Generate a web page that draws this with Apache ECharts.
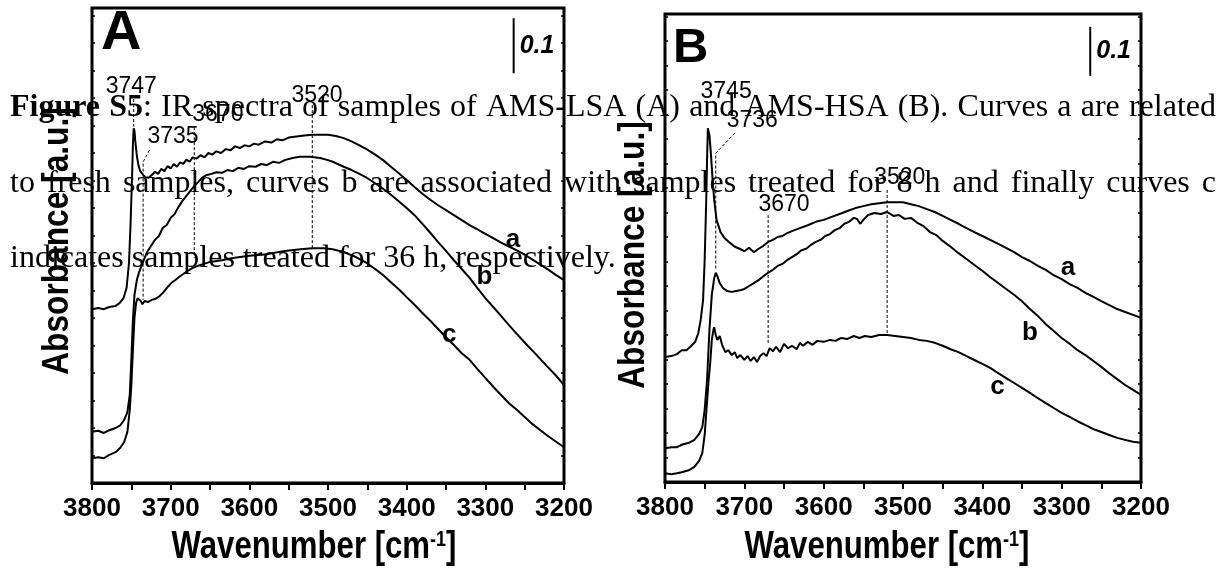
<!DOCTYPE html>
<html>
<head>
<meta charset="utf-8">
<script src="https://cdn.jsdelivr.net/npm/echarts@6/dist/echarts.min.js"></script>
<style>
html,body{margin:0;padding:0;background:#fff;}
#chart{width:1224px;height:573px;}
</style>
</head>
<body>
<div id="chart"></div>
<script>
// IR spectra in the OH stretching region: [wavenumber cm-1, absorbance]
// AMS-LSA: a = fresh, b = 8 h, c = 36 h
const lsaFresh = [
[3800,0.316],[3792,0.318],[3785,0.316],[3778,0.320],[3770,0.322],[3765,0.327],[3760,0.336],[3756,0.355],[3753,0.400],[3751,0.470],[3749,0.560],[3748,0.615],[3747,0.645],[3746,0.640],[3745,0.622],[3743,0.595],[3741,0.578],[3739,0.568],[3737,0.566],[3735,0.560],[3732,0.556],[3728,0.555],[3724,0.560],[3720,0.566],[3716,0.562],[3712,0.571],[3708,0.567],[3704,0.576],[3700,0.572],[3696,0.580],[3692,0.575],[3688,0.583],[3684,0.580],[3680,0.588],[3676,0.584],[3672,0.592],[3667,0.590],[3662,0.596],[3657,0.592],[3652,0.600],[3647,0.597],[3642,0.603],[3636,0.600],[3630,0.607],[3624,0.605],[3618,0.612],[3612,0.609],[3606,0.614],[3600,0.612],[3594,0.617],[3588,0.615],[3580,0.621],[3572,0.619],[3565,0.625],[3558,0.623],[3550,0.628],[3540,0.630],[3530,0.632],[3520,0.633],[3510,0.633],[3500,0.633],[3490,0.631],[3480,0.627],[3470,0.621],[3460,0.614],[3450,0.606],[3440,0.597],[3430,0.587],[3420,0.575],[3410,0.563],[3400,0.551],[3390,0.538],[3380,0.526],[3370,0.515],[3360,0.505],[3350,0.496],[3340,0.487],[3330,0.478],[3320,0.469],[3310,0.461],[3300,0.453],[3290,0.445],[3280,0.437],[3270,0.430],[3260,0.423],[3250,0.415],[3240,0.406],[3230,0.397],[3220,0.388],[3210,0.378],[3200,0.369]
];
const lsa8h = [
[3800,0.093],[3792,0.095],[3785,0.091],[3778,0.096],[3770,0.100],[3764,0.105],[3759,0.115],[3755,0.129],[3752,0.160],[3750,0.224],[3748,0.296],[3746,0.342],[3743,0.369],[3740,0.384],[3735,0.402],[3730,0.420],[3725,0.431],[3720,0.442],[3715,0.449],[3710,0.464],[3705,0.469],[3700,0.482],[3695,0.489],[3690,0.502],[3685,0.513],[3680,0.522],[3675,0.531],[3670,0.540],[3665,0.547],[3660,0.555],[3654,0.560],[3648,0.562],[3642,0.565],[3635,0.564],[3628,0.569],[3621,0.567],[3614,0.573],[3607,0.571],[3600,0.576],[3592,0.575],[3585,0.580],[3578,0.578],[3570,0.584],[3562,0.582],[3555,0.587],[3545,0.591],[3536,0.593],[3523,0.593],[3510,0.591],[3500,0.587],[3494,0.584],[3480,0.575],[3470,0.569],[3460,0.562],[3451,0.555],[3440,0.545],[3430,0.535],[3420,0.524],[3409,0.511],[3400,0.500],[3390,0.487],[3380,0.471],[3370,0.455],[3360,0.438],[3350,0.422],[3340,0.405],[3330,0.389],[3320,0.373],[3311,0.356],[3300,0.336],[3290,0.320],[3280,0.304],[3270,0.287],[3260,0.271],[3247,0.251],[3235,0.233],[3222,0.213],[3210,0.195],[3200,0.178]
];
const lsa36h = [
[3800,0.045],[3792,0.047],[3785,0.045],[3778,0.051],[3770,0.056],[3764,0.064],[3759,0.075],[3755,0.093],[3752,0.133],[3750,0.178],[3748,0.242],[3746,0.300],[3744,0.327],[3742,0.336],[3740,0.336],[3738,0.331],[3736,0.325],[3733,0.331],[3729,0.329],[3724,0.333],[3719,0.335],[3714,0.340],[3709,0.347],[3704,0.356],[3699,0.364],[3694,0.369],[3689,0.375],[3684,0.380],[3679,0.385],[3672,0.391],[3663,0.396],[3650,0.402],[3635,0.405],[3621,0.409],[3600,0.413],[3578,0.416],[3555,0.422],[3535,0.425],[3520,0.427],[3505,0.427],[3494,0.425],[3480,0.420],[3465,0.411],[3451,0.400],[3440,0.389],[3430,0.378],[3420,0.365],[3409,0.351],[3400,0.338],[3390,0.324],[3380,0.309],[3370,0.295],[3360,0.280],[3350,0.265],[3340,0.251],[3330,0.236],[3320,0.224],[3310,0.207],[3300,0.191],[3290,0.175],[3280,0.160],[3270,0.145],[3260,0.133],[3250,0.120],[3240,0.107],[3230,0.096],[3220,0.085],[3210,0.075],[3200,0.065]
];
// AMS-HSA: a = fresh, b = 8 h, c = 36 h
const hsaFresh = [
[3800,0.255],[3792,0.257],[3785,0.261],[3779,0.269],[3773,0.269],[3768,0.276],[3762,0.286],[3758,0.304],[3755,0.331],[3752,0.371],[3750,0.453],[3748,0.576],[3747,0.657],[3746,0.722],[3744,0.708],[3742,0.667],[3740,0.616],[3738,0.576],[3735,0.535],[3730,0.510],[3725,0.498],[3718,0.488],[3712,0.480],[3706,0.476],[3700,0.471],[3694,0.478],[3688,0.469],[3682,0.476],[3676,0.482],[3670,0.490],[3664,0.494],[3658,0.500],[3652,0.502],[3646,0.508],[3640,0.512],[3630,0.518],[3620,0.524],[3610,0.531],[3600,0.535],[3590,0.541],[3580,0.547],[3570,0.553],[3560,0.559],[3550,0.563],[3540,0.567],[3530,0.569],[3520,0.571],[3510,0.571],[3500,0.571],[3490,0.567],[3480,0.563],[3470,0.557],[3460,0.551],[3450,0.543],[3440,0.535],[3430,0.527],[3420,0.518],[3410,0.510],[3400,0.502],[3390,0.494],[3380,0.486],[3370,0.478],[3360,0.469],[3350,0.459],[3340,0.451],[3330,0.441],[3320,0.433],[3310,0.422],[3300,0.414],[3290,0.404],[3280,0.396],[3270,0.386],[3260,0.378],[3250,0.369],[3240,0.361],[3230,0.353],[3220,0.347],[3210,0.341],[3200,0.335]
];
const hsa8h = [
[3800,0.069],[3792,0.071],[3785,0.071],[3779,0.076],[3770,0.080],[3763,0.086],[3757,0.098],[3753,0.112],[3750,0.147],[3747,0.208],[3744,0.310],[3741,0.382],[3738,0.416],[3736,0.427],[3734,0.420],[3731,0.406],[3727,0.396],[3722,0.390],[3716,0.388],[3710,0.390],[3704,0.392],[3700,0.394],[3694,0.400],[3688,0.406],[3682,0.412],[3676,0.420],[3670,0.427],[3664,0.433],[3658,0.441],[3652,0.445],[3646,0.453],[3640,0.459],[3634,0.465],[3628,0.473],[3622,0.476],[3616,0.484],[3610,0.490],[3604,0.494],[3598,0.502],[3592,0.506],[3586,0.514],[3580,0.518],[3574,0.527],[3568,0.531],[3562,0.539],[3558,0.537],[3554,0.527],[3550,0.535],[3544,0.545],[3536,0.549],[3528,0.547],[3520,0.551],[3512,0.543],[3505,0.545],[3498,0.537],[3490,0.539],[3482,0.529],[3474,0.522],[3466,0.510],[3458,0.504],[3450,0.492],[3440,0.480],[3430,0.467],[3420,0.455],[3410,0.443],[3400,0.431],[3390,0.418],[3380,0.406],[3370,0.394],[3360,0.382],[3350,0.369],[3340,0.353],[3330,0.339],[3320,0.322],[3310,0.308],[3300,0.294],[3290,0.282],[3280,0.269],[3270,0.259],[3260,0.247],[3250,0.235],[3240,0.222],[3230,0.210],[3220,0.198],[3210,0.188],[3200,0.178]
];
const hsa36h = [
[3800,0.018],[3792,0.016],[3785,0.018],[3779,0.020],[3770,0.024],[3763,0.031],[3757,0.043],[3753,0.059],[3750,0.096],[3748,0.141],[3745,0.208],[3743,0.243],[3741,0.290],[3739,0.310],[3738,0.316],[3736,0.300],[3734,0.290],[3731,0.298],[3728,0.280],[3724,0.265],[3720,0.269],[3716,0.259],[3712,0.265],[3709,0.253],[3705,0.259],[3700,0.249],[3696,0.257],[3692,0.247],[3688,0.255],[3684,0.245],[3680,0.257],[3676,0.263],[3672,0.257],[3668,0.273],[3664,0.267],[3660,0.276],[3655,0.265],[3650,0.282],[3645,0.273],[3640,0.278],[3634,0.271],[3630,0.284],[3626,0.278],[3620,0.286],[3614,0.280],[3608,0.288],[3600,0.286],[3592,0.290],[3585,0.288],[3578,0.294],[3570,0.292],[3562,0.298],[3555,0.294],[3548,0.298],[3540,0.296],[3530,0.300],[3520,0.300],[3510,0.298],[3500,0.296],[3490,0.294],[3480,0.290],[3470,0.288],[3460,0.284],[3450,0.278],[3440,0.271],[3430,0.265],[3420,0.257],[3410,0.249],[3400,0.241],[3390,0.233],[3380,0.222],[3370,0.212],[3360,0.202],[3350,0.192],[3340,0.182],[3330,0.171],[3320,0.161],[3310,0.151],[3300,0.141],[3290,0.133],[3280,0.124],[3270,0.116],[3260,0.108],[3250,0.102],[3240,0.096],[3230,0.090],[3220,0.086],[3210,0.082],[3200,0.080]
];

// marked band positions (cm-1)
const peaksLSA = [3747, 3735, 3670, 3520];
const peaksHSA = [3745, 3736, 3670, 3520];
const curveNames = ['a', 'b', 'c'];
const wavenumberTicks = [3800, 3700, 3600, 3500, 3400, 3300, 3200];
const scaleBar = 0.1;

const captionLines = [
  'Figure S5: IR spectra of samples of AMS-LSA (A) and AMS-HSA (B). Curves a are related',
  'to fresh samples, curves b are associated with samples treated for 8 h and finally curves c',
  'indicates samples treated for 36 h, respectively.'
];
const captionBold = 'Figure S5';

// ---- layout ----
const SANS = '"Liberation Sans", Arial, sans-serif';
const SERIF = '"Liberation Serif", "Times New Roman", serif';

const panels = [
  {
    letter: 'A', letterSize: 56, letterX: 101, letterY: 34,
    grid: {left: 92, top: 8, width: 472, height: 475},
    yMax: 0.8636,
    curves: [lsaFresh, lsa8h, lsa36h],
    peaks: peaksLSA,
    // label anchor [wn, abs] and dashed guide for each marked band
    peakLabel: [[3750, 0.720], [3697, 0.629], [3640, 0.669], [3514, 0.705]],
    guide: [
      [[0, 0.698], [0, 0.648]],
      [[3727, 0.605], [0, 0.584], [0, 0.333]],
      [[0, 0.647], [0, 0.409]],
      [[0, 0.687], [0, 0.427]]
    ],
    curveLabel: [[3265, 0.442], [3301, 0.375], [3346, 0.269]],
    bar: [3264, 0.745],
    yTitle: [58, 241], xTitle: [314, 548]
  },
  {
    letter: 'B', letterSize: 49, letterX: 673, letterY: 48,
    grid: {left: 665, top: 14, width: 476, height: 468},
    yMax: 0.9551,
    curves: [hsaFresh, hsa8h, hsa36h],
    peaks: peaksHSA,
    peakLabel: [[3723, 0.796], [3690, 0.737], [3650, 0.565], [3504, 0.622]],
    guide: [
      null,
      [[3712, 0.712], [0, 0.671], [0, 0.433]],
      [[0, 0.545], [0, 0.280]],
      [[0, 0.596], [0, 0.304]]
    ],
    curveLabel: [[3292, 0.437], [3340, 0.304], [3381, 0.194]],
    bar: [3264, 0.829],
    yTitle: [634, 255], xTitle: [887, 548]
  }
];

const chart = echarts.init(document.getElementById('chart'));

const grids = [], xAxes = [], yAxes = [], series = [], graphics = [];
const xMin = Math.min(...wavenumberTicks), xMax = Math.max(...wavenumberTicks);
const xStep = wavenumberTicks[0] - wavenumberTicks[1];

function labelSeries(i, data, labelStyle) {
  return {
    type: 'scatter', xAxisIndex: i, yAxisIndex: i * 2, symbolSize: 0, z: 4,
    itemStyle: {opacity: 1}, emphasis: {disabled: true},
    data: data,
    label: Object.assign({show: true, position: 'inside', formatter: '{b}', color: '#000', opacity: 1,
      fontFamily: SANS}, labelStyle)
  };
}

panels.forEach((p, i) => {
  grids.push(Object.assign({show: true, borderColor: '#000', borderWidth: 3, backgroundColor: 'transparent'}, p.grid));
  xAxes.push({
    gridIndex: i, type: 'value', inverse: true, min: xMin, max: xMax, interval: xStep,
    axisLine: {show: true, lineStyle: {color: '#000', width: 3}},
    axisTick: {show: true, inside: false, length: 7, lineStyle: {color: '#000', width: 2}},
    minorTick: {show: true, splitNumber: 2, length: 7, lineStyle: {color: '#000', width: 2}},
    splitLine: {show: false},
    axisLabel: {margin: 13, color: '#000', fontFamily: SANS, fontWeight: 'bold', fontSize: 26,
      formatter: v => String(v)}
  });
  ['left', 'right'].forEach(pos => {
    yAxes.push({
      gridIndex: i, type: 'value', position: pos, min: 0, max: p.yMax, interval: 0.05,
      axisLine: {show: false},
      axisTick: {show: true, inside: true, length: 3, lineStyle: {color: '#000', width: 1.5}},
      axisLabel: {show: false}, splitLine: {show: false}
    });
  });
  const yi = i * 2;

  p.curves.forEach(data => {
    series.push({
      type: 'line', xAxisIndex: i, yAxisIndex: yi, data: data, symbol: 'none',
      lineStyle: {color: '#000', width: 2}, z: 3
    });
  });

  // dashed guides at the marked bands
  p.peaks.forEach((wn, k) => {
    const g = p.guide[k];
    if (!g) return;
    const pts = g.map(pt => [pt[0] === 0 ? wn : pt[0], pt[1]]);
    series.push({
      type: 'line', xAxisIndex: i, yAxisIndex: yi, data: pts, symbol: 'none',
      lineStyle: {color: '#000', width: 1, type: [3, 2]}, z: 2
    });
  });

  // band labels
  series.push(labelSeries(i, p.peaks.map((wn, k) => ({value: p.peakLabel[k], name: String(wn)})),
    {fontSize: 23}));

  // curve letters
  series.push(labelSeries(i, curveNames.map((n, k) => ({value: p.curveLabel[k], name: n})),
    {fontWeight: 'bold', fontSize: 26}));

  // absorbance scale bar
  series.push({
    type: 'line', xAxisIndex: i, yAxisIndex: yi, symbol: 'none',
    data: [[p.bar[0], p.bar[1]], [p.bar[0], p.bar[1] + scaleBar]],
    lineStyle: {color: '#000', width: 2}, z: 3
  });
  series.push(labelSeries(i, [{value: [p.bar[0], p.bar[1] + scaleBar / 2], name: String(scaleBar)}],
    {position: 'right', distance: 6, fontWeight: 'bold', fontStyle: 'italic', fontSize: 25}));

  // panel letter
  graphics.push({
    type: 'text', x: p.letterX, y: p.letterY, z: 10,
    style: {text: p.letter, font: 'bold ' + p.letterSize + 'px ' + SANS, fill: '#000',
      textAlign: 'left', textVerticalAlign: 'middle', align: 'left', verticalAlign: 'middle'}
  });
});

// axis titles (condensed bold sans)
const mctx = document.createElement('canvas').getContext('2d');
function textWidth(t, font) { mctx.font = font; return mctx.measureText(t).width; }

panels.forEach(p => {
  const fMain = 'bold 38px ' + SANS, fSup = 'bold 22px ' + SANS;
  const w1 = textWidth('Wavenumber [cm', fMain), w2 = textWidth('-1', fSup), w3 = textWidth(']', fMain);
  const x0 = -(w1 + w2 + w3) / 2;
  const base = {fill: '#000', textAlign: 'left', textVerticalAlign: 'middle', align: 'left', verticalAlign: 'middle'};
  graphics.push({
    type: 'group', x: p.xTitle[0], y: p.xTitle[1], scaleX: 0.82, z: 10,
    children: [
      {type: 'text', x: x0, y: 0, style: Object.assign({text: 'Wavenumber [cm', font: fMain}, base)},
      {type: 'text', x: x0 + w1, y: -8, style: Object.assign({text: '-1', font: fSup}, base)},
      {type: 'text', x: x0 + w1 + w2, y: 0, style: Object.assign({text: ']', font: fMain}, base)}
    ]
  });
  graphics.push({
    type: 'text', x: p.yTitle[0], y: p.yTitle[1], rotation: Math.PI / 2, scaleX: 0.88, z: 10,
    style: {text: 'Absorbance [a.u.]', font: 'bold 36px ' + SANS, fill: '#000',
      textAlign: 'center', textVerticalAlign: 'middle', align: 'center', verticalAlign: 'middle'}
  });
});

// caption paragraph, justified, drawn over the panels
(function () {
  const fontN = '32px ' + SERIF, fontB = 'bold 32px ' + SERIF;
  const left = 10, right = 1216;
  const mids = [108, 184, 259];
  captionLines.forEach((line, li) => {
    const words = line.split(' ');
    // split each word into bold / regular runs
    let boldLeft = li === 0 ? captionBold.replace(/ /g, '').length : 0;
    const segs = words.map(w => {
      const runs = [];
      if (boldLeft > 0) {
        const nb = Math.min(boldLeft, w.length);
        runs.push({t: w.slice(0, nb), f: fontB});
        if (nb < w.length) runs.push({t: w.slice(nb), f: fontN});
        boldLeft -= nb;
      } else runs.push({t: w, f: fontN});
      runs.forEach(r => r.w = textWidth(r.t, r.f));
      return runs;
    });
    const widths = segs.map(rs => rs.reduce((s, r) => s + r.w, 0));
    const total = widths.reduce((s, v) => s + v, 0);
    const justify = li < captionLines.length - 1;
    const gap = justify ? (right - left - total) / (words.length - 1) : textWidth(' ', fontN);
    let x = left;
    segs.forEach((rs, wi) => {
      let rx = x;
      rs.forEach(r => {
        graphics.push({
          type: 'text', x: rx, y: mids[li], z: 20,
          style: {text: r.t, font: r.f, fill: '#000', textAlign: 'left', textVerticalAlign: 'middle', align: 'left', verticalAlign: 'middle'}
        });
        rx += r.w;
      });
      x += widths[wi] + gap;
    });
  });
})();

chart.setOption({
  animation: false,
  backgroundColor: '#fff',
  grid: grids,
  xAxis: xAxes,
  yAxis: yAxes,
  series: series,
  graphic: graphics
});
</script>
</body>
</html>
